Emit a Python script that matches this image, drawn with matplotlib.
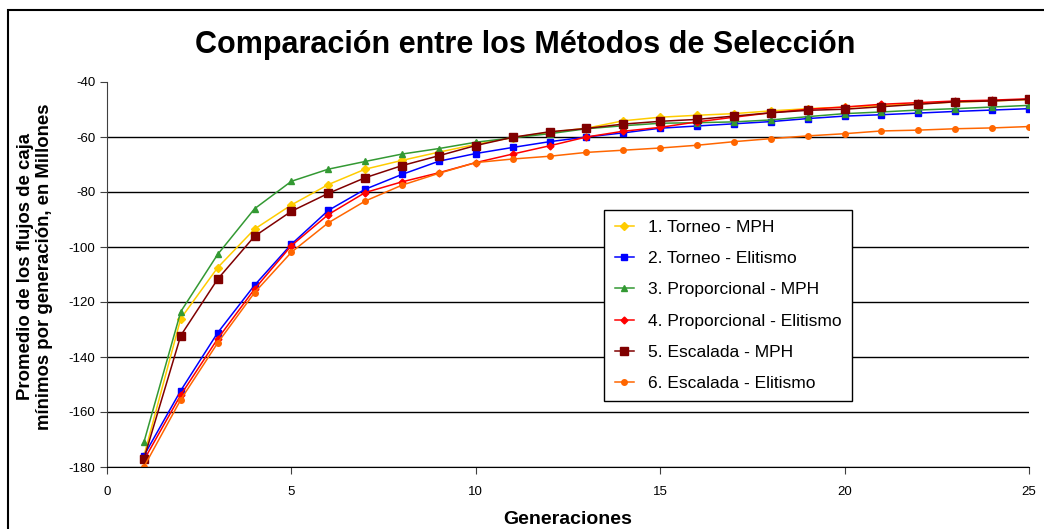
import matplotlib
matplotlib.use("Agg")
import matplotlib.pyplot as plt
from matplotlib.patches import Rectangle

plt.rcParams["font.family"] = ["Liberation Sans", "DejaVu Sans"]
plt.rcParams["axes.unicode_minus"] = False

# Data

generaciones = list(range(1, 26))

torneo_mph = [-176, -126, -107.5, -93.5, -84.7, -77.3, -71.7, -68.5, -65.5, -62.7,
              -60.2, -58.3, -56.8, -54.1, -52.8, -52.1, -51.5, -50.5, -49.7, -49.1,
              -48.6, -47.9, -47.3, -46.9, -46.4]
torneo_elit = [-175.9, -152.2, -131.2, -113.9, -99.0, -86.7, -79.0, -73.6, -68.8, -66.0,
               -63.8, -61.7, -60.0, -58.5, -56.8, -56.0, -55.2, -54.4, -53.3, -52.4,
               -51.9, -51.3, -50.7, -50.2, -49.7]
prop_mph = [-171, -123.5, -102.7, -86.1, -76.1, -71.7, -68.9, -66.2, -64.2, -61.9,
            -60.3, -58.8, -57.0, -55.9, -55.0, -54.8, -54.5, -53.8, -52.6, -51.5,
            -50.9, -50.2, -49.7, -49.1, -48.5]
prop_elit = [-177.5, -153.8, -133.4, -115.3, -99.5, -88.2, -80.2, -76.3, -73.0, -69.3,
             -66.2, -63.2, -60.0, -57.9, -56.5, -54.5, -52.8, -51.2, -49.9, -49.1,
             -48.1, -47.5, -46.9, -46.6, -46.1]
escal_mph = [-177.1, -132.2, -111.7, -96.1, -87.0, -80.5, -74.8, -70.4, -66.8, -63.1,
             -60.1, -58.1, -56.9, -55.3, -54.3, -53.6, -52.4, -51.2, -50.3, -49.9,
             -49.0, -48.1, -47.2, -46.9, -46.3]
escal_elit = [-180, -155.5, -134.9, -116.6, -101.9, -91.2, -83.3, -77.5, -73.2, -69.3,
              -68.0, -67.0, -65.6, -64.8, -64.0, -63.0, -61.7, -60.6, -59.6, -58.8,
              -57.8, -57.5, -57.0, -56.7, -56.2]

labels = ["1. Torneo - MPH", "2. Torneo - Elitismo", "3. Proporcional - MPH",
          "4. Proporcional - Elitismo", "5. Escalada - MPH", "6. Escalada - Elitismo"]

# Plot

fig = plt.figure(figsize=(10.44, 5.29), dpi=100)
ax = fig.add_axes([107 / 1044, 1 - 467 / 529, 922 / 1044, 385 / 529])

styles = [
    ("#FFCC00", "D", 4),
    ("#0000FF", "s", 4),
    ("#339933", "^", 5),
    ("#FF0000", "D", 3.5),
    ("#800000", "s", 6),
    ("#FF6600", "o", 4),
]
series = [torneo_mph, torneo_elit, prop_mph, prop_elit, escal_mph, escal_elit]

for vals, lab, (col, mk, ms) in zip(series, labels, styles):
    ax.plot(generaciones, vals, color=col, marker=mk, markersize=ms,
            linewidth=1.1, label=lab)

ax.set_xlim(0, 25)
ax.set_ylim(-180, -40)
ax.set_xticks(range(0, 26, 5))
ax.set_yticks(range(-180, -39, 20))
ax.tick_params(direction="out", length=5, labelsize=9.5, color="#404040")
ax.tick_params(axis="x", pad=9)
ax.spines["top"].set_visible(False)
ax.spines["right"].set_visible(False)
ax.spines["left"].set_color("#404040")
ax.spines["bottom"].set_color("black")
ax.yaxis.grid(True, color="black", linewidth=1)
ax.get_ygridlines()[-1].set_visible(False)
ax.set_axisbelow(True)

ax.legend(loc="upper left", bbox_to_anchor=(0.530, 0.691), fontsize=12.5,
          frameon=True, fancybox=False, edgecolor="black", framealpha=1,
          handlelength=1.1, labelspacing=0.92, borderpad=0.6)

fig.text(0.503, 1 - 45 / 529, "Comparación entre los Métodos de Selección",
         ha="center", va="center", fontsize=22, fontweight="bold")
fig.text(35 / 1044, 1 - 267 / 529,
         "Promedio de los flujos de caja\nmínimos por generación, en Millones",
         ha="center", va="center", rotation=90, fontsize=13.4, fontweight="bold",
         multialignment="center", linespacing=1.2)
fig.text(568 / 1044, 1 - 520 / 529, "Generaciones", ha="center", va="center",
         fontsize=14, fontweight="bold")

fig.patches.append(Rectangle((8 / 1044, -0.1), 1.2, 1.1 - 10 / 529,
                             transform=fig.transFigure, fill=False,
                             edgecolor="black", linewidth=1.5))

fig.savefig("out.png", dpi=100)
